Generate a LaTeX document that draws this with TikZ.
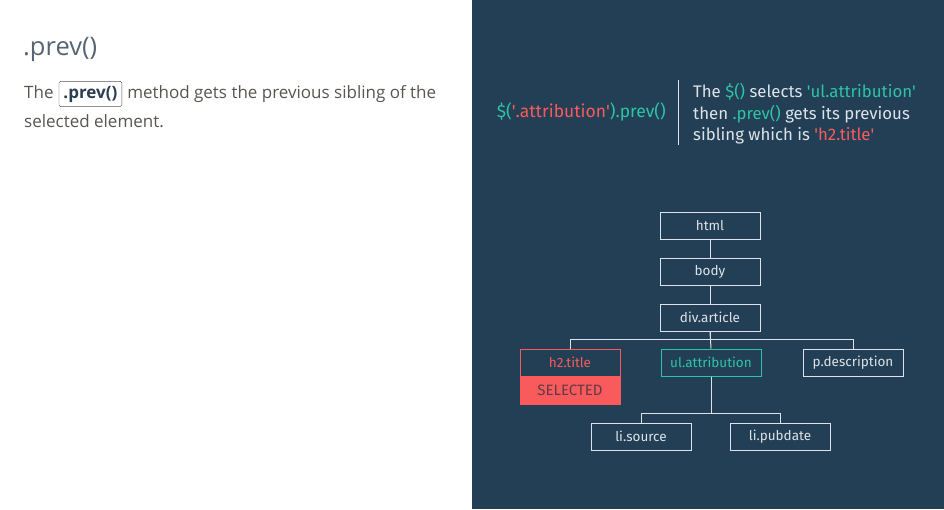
\documentclass[tikz,border=0pt]{standalone}
\usepackage{fontspec}
\usetikzlibrary{positioning}
\newfontfamily\leftfont{Open Sans}
\newfontfamily\rightfont{Fira Sans}
\definecolor{navy}{HTML}{223F55}
\definecolor{teal}{HTML}{2EC4A6}
\definecolor{salmon}{HTML}{F95A5C}
\definecolor{pale}{HTML}{DDE3E8}
\definecolor{ink}{HTML}{5A5550}
\definecolor{slate}{HTML}{2C3E50}
\tikzstyle{elem}=[rectangle,draw=pale,line width=1pt,minimum width=100pt,
  minimum height=27pt,inner sep=0pt,text=pale,font=\rightfont\fontsize{13.5}{15}\selectfont]
\tikzstyle{link}=[draw=pale,line width=1pt]
\newcommand{\sq}{\textquotesingle}

\begin{document}
\begin{tikzpicture}[x=1pt,y=-1pt]
	\useasboundingbox (0,0) rectangle (944,509);
	\fill[white] (0,0) rectangle (472,509);
	\fill[navy] (472,0) rectangle (944,509);

	% left column
	\node[anchor=base west,inner sep=0pt,text=slate!80,font=\leftfont\fontsize{25.5}{28}\selectfont]
		(title) at (23,55) {.prev()};
	\node[anchor=base west,inner sep=0pt,text=ink,font=\leftfont\fontsize{17}{20}\selectfont]
		(the) at (24,98) {The};
	\node[right=5pt of the.base east,anchor=base west,draw=ink,rounded corners=1.5pt,
		inner xsep=4.5pt,inner ysep=4.5pt,text=slate,font=\leftfont\bfseries\fontsize{17}{20}\selectfont]
		(method) {.prev()};
	\node[right=5pt of method.base east,anchor=base west,inner sep=0pt,text=ink,
		font=\leftfont\fontsize{17}{20}\selectfont] (rest) {method gets the previous sibling of the};
	\node[anchor=base west,inner sep=0pt,text=ink,font=\leftfont\fontsize{17}{20}\selectfont]
		(rest2) at (24,127) {selected element.};

	% code and explanation
	\node[anchor=base east,inner sep=0pt,font=\rightfont\fontsize{17.5}{19}\selectfont]
		(code) at (666,117) {\textcolor{teal}{\$(}\textcolor{salmon}{\sq.attribution\sq}\textcolor{teal}{).prev()}};
	\coordinate (bartop) at (678,80);
	\coordinate (barbot) at (678,145);
	\draw[pale,line width=1pt] (bartop) -- (barbot);
	\node[anchor=north west,align=left,inner sep=0pt,text=pale,
		font=\rightfont\fontsize{16.8}{21.5}\selectfont] (note) at (693,83.5)
		{The \textcolor{teal}{\$()} selects \textcolor{teal}{\sq ul.attribution\sq}\\
		 then \textcolor{teal}{.prev()} gets its previous\\
		 sibling which is \textcolor{salmon}{\sq h2.title\sq}};

	% dom tree
	\node[elem] (html) at (710,225.5) {html};
	\node[elem] (body) at (710,271.5) {body};
	\node[elem] (div) at (710,317.5) {div.article};
	\node[elem,draw=salmon,text=salmon] (h2) at (570,362.5) {h2.title};
	\node[elem,draw=salmon,fill=salmon,text=navy!60!salmon!80!black,anchor=north,
		font=\rightfont\fontsize{15}{17}\selectfont] (sel) at (h2.south) {SELECTED};
	\node[elem,draw=teal,text=teal] (ul) at (711,362.5) {ul.attribution};
	\node[elem] (pd) at (853,362.5) {p.description};
	\node[elem] (src) at (641,436.5) {li.source};
	\node[elem] (pub) at (780,436.5) {li.pubdate};

	\draw[link] (html) -- (body);
	\draw[link] (body) -- (div);
	\draw[link] (div.south) -- ++(0,8) -| (h2.north);
	\draw[link] (div.south) -- ++(0,8) -| (pd.north);
	\draw[link] (div.south) -- (ul.north);
	\draw[link] (ul.south) -- ++(0,37) -| (src.north);
	\draw[link] (ul.south) -- ++(0,37) -| (pub.north);
\end{tikzpicture}
\end{document}
